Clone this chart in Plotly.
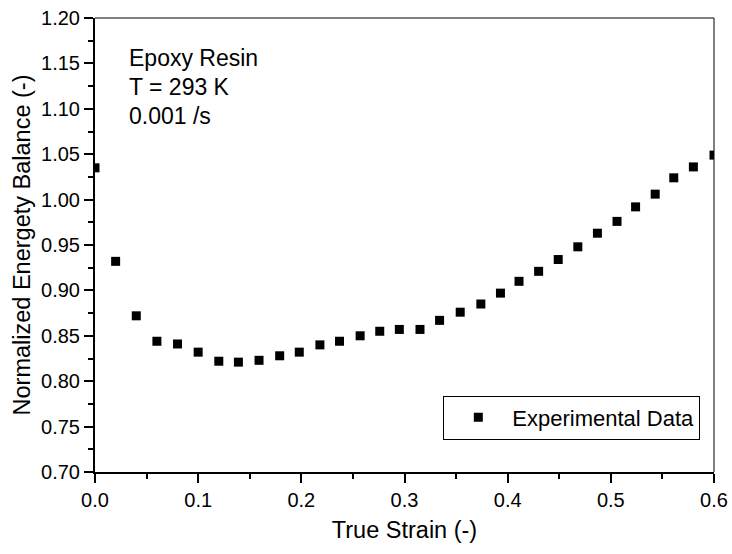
import plotly.graph_objects as go

strain = [0.0, 0.020, 0.040, 0.060, 0.080, 0.100, 0.120, 0.139, 0.159, 0.179,
          0.198, 0.218, 0.237, 0.257, 0.276, 0.295, 0.315, 0.334, 0.354, 0.374,
          0.393, 0.411, 0.430, 0.449, 0.468, 0.487, 0.506, 0.524, 0.543, 0.561,
          0.580, 0.600]
balance = [1.035, 0.932, 0.872, 0.844, 0.841, 0.832, 0.822, 0.821, 0.823, 0.828,
           0.832, 0.840, 0.844, 0.850, 0.855, 0.857, 0.857, 0.867, 0.876, 0.885,
           0.897, 0.910, 0.921, 0.934, 0.948, 0.963, 0.976, 0.992, 1.006, 1.024,
           1.036, 1.049]
series_name = "Experimental Data"
info_lines = ["Epoxy Resin", "T = 293 K", "0.001 /s"]
x_title = "True Strain (-)"
y_title = "Normalized Energety Balance (-)"

FONT = "Liberation Sans, Arial, sans-serif"

fig = go.Figure()
fig.add_trace(go.Scatter(
    x=strain, y=balance, mode="markers", name=series_name,
    marker=dict(symbol="square", size=9, color="black", line=dict(width=0)),
    showlegend=True,
))

axis_common = dict(
    automargin=False, ticklabeloverflow="allow",
    showgrid=False, zeroline=False, showline=True, linecolor="black", linewidth=2,
    mirror=False, ticks="outside", ticklen=9, tickwidth=1.5, tickcolor="black",
    tickfont=dict(family=FONT, size=20, color="black"),
)

fig.update_xaxes(
    range=[0, 0.6], dtick=0.1, tick0=0, tickformat=".1f",
    minor=dict(ticks="outside", ticklen=5, tickwidth=1.5, tickcolor="black", dtick=0.05, showgrid=False),
    title=dict(text=x_title, font=dict(family=FONT, size=23.5, color="black"), standoff=12),
    **axis_common,
)
fig.update_yaxes(
    range=[0.7, 1.2], dtick=0.05, tick0=0.7, tickformat=".2f",
    minor=dict(ticks="outside", ticklen=5, tickwidth=1.5, tickcolor="black", dtick=0.025, showgrid=False),
    title=dict(text=y_title, font=dict(family=FONT, size=23.5, color="black"), standoff=4),
    **axis_common,
)

# thin top and right frame lines
fig.add_shape(type="line", xref="paper", yref="paper", x0=0, x1=1, y0=1, y1=1,
              line=dict(color="black", width=1))
fig.add_shape(type="line", xref="paper", yref="paper", x0=1, x1=1, y0=0, y1=1,
              line=dict(color="black", width=1))

line_y = [0.9123, 0.8485, 0.7846]
for txt, yy in zip(info_lines, line_y):
    fig.add_annotation(text=txt, xref="paper", yref="paper", x=0.0525, y=yy,
                       xanchor="left", yanchor="middle", showarrow=False,
                       font=dict(family=FONT, size=23, color="black"))

fig.update_layout(
    template="none",
    width=732, height=554,
    margin=dict(l=95, r=18, t=18, b=82, autoexpand=False),
    paper_bgcolor="white", plot_bgcolor="white",
    font=dict(family=FONT, color="black"),
    legend=dict(x=0.5627, y=0.120, xanchor="left", yanchor="middle",
                bordercolor="black", borderwidth=1, bgcolor="white",
                itemwidth=58, font=dict(family=FONT, size=22, color="black"),
                tracegroupgap=0),
    showlegend=True,
)

fig.write_html("out.html", config={"displayModeBar": False},
               post_script="document.body.style.margin='0';")
